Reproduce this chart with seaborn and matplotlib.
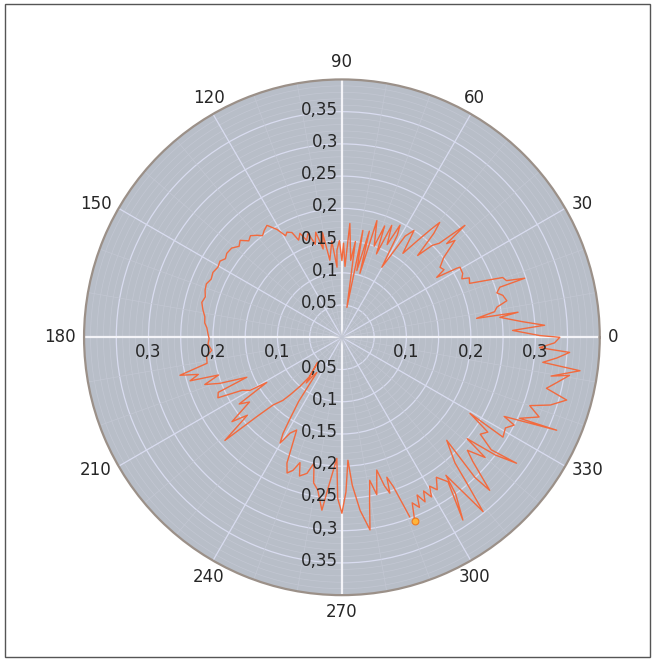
import numpy as np
import pandas as pd
import matplotlib
matplotlib.use("Agg")
import matplotlib.pyplot as plt
import matplotlib.transforms as mtransforms
import seaborn as sns

# traced counterclockwise, starting (and ending) at the marked point near 291 deg
angle_deg = [
    291.6, 293.0, 294.5, 295.5, 296.8, 298.0, 299.3, 300.5, 302.0, 304.0,
    306.3, 303.5, 306.0, 307.0, 309.0, 310.5, 312.0, 315.5, 313.5, 314.0,
    316.5, 318.0, 320.0, 321.0, 322.5, 324.2, 323.0, 325.0, 327.0, 329.3,
    328.2, 331.0, 333.0, 334.0, 336.6, 335.5, 338.0, 340.0, 342.0, 344.4,
    346.0, 348.0, 350.5, 349.5, 352.0, 352.9, 354.5, 356.2, 357.0, 358.5,
    360.0, 360.5, 362.3, 363.4, 365.0, 367.2, 368.1, 368.0, 369.5, 371.0,
    372.5, 374.6, 376.0, 377.6, 377.9, 379.0, 380.4, 382.9, 385.0, 386.0,
    387.9, 390.7, 391.0, 392.3, 393.5, 395.5, 398.0, 400.6, 401.8, 402.3,
    404.0, 405.5, 407.2, 408.5, 409.6, 410.6, 412.0, 414.0, 416.0, 418.0,
    420.3, 421.5, 422.6, 424.0, 426.0, 427.5, 429.0, 430.5, 433.3, 434.3,
    435.5, 437.4, 438.9, 440.5, 442.0, 443.5, 446.0, 447.5, 449.0, 450.0,
    451.5, 453.3, 454.0, 456.0, 458.9, 460.5, 462.0, 464.0, 466.0, 468.0,
    470.0, 472.0, 474.0, 475.5, 477.6, 479.0, 481.0, 483.8, 486.0, 488.0,
    489.8, 492.0, 494.0, 496.4, 498.5, 501.0, 503.9, 506.0, 508.0, 510.5,
    513.3, 516.0, 518.5, 521.0, 523.5, 526.0, 529.0, 531.5, 534.0, 536.0,
    538.3, 540.5, 543.0, 545.7, 548.0, 550.9, 553.2, 554.5, 556.0, 557.0,
    559.0, 560.7, 562.8, 564.0, 566.0, 568.0, 570.0, 571.0, 573.0, 575.0,
    577.5, 579.5, 581.4, 583.0, 584.5, 586.9, 588.0, 589.5, 590.5, 586.0,
    592.0, 593.0, 594.5, 596.0, 597.5, 598.5, 599.7, 601.6, 604.0, 606.4,
    608.0, 609.8, 611.5, 613.0, 615.6, 617.5, 619.0, 621.0, 623.4, 625.0,
    627.6, 628.5, 630.0, 631.5, 632.8, 634.0, 636.0, 638.3, 639.5, 641.0,
    642.5, 644.7, 646.0, 647.1, 647.8, 649.0, 650.7,
]
radius = [
    0.307, 0.279, 0.290, 0.271, 0.286, 0.270, 0.284, 0.268, 0.279, 0.262,
    0.278, 0.340, 0.300, 0.268, 0.348, 0.300, 0.262, 0.228, 0.300, 0.330,
    0.280, 0.262, 0.290, 0.250, 0.300, 0.334, 0.290, 0.262, 0.270, 0.231,
    0.294, 0.290, 0.300, 0.280, 0.363, 0.303, 0.330, 0.310, 0.340, 0.362,
    0.327, 0.340, 0.358, 0.330, 0.373, 0.314, 0.335, 0.354, 0.307, 0.330,
    0.338, 0.307, 0.265, 0.315, 0.280, 0.247, 0.276, 0.211, 0.240, 0.245,
    0.262, 0.258, 0.250, 0.257, 0.298, 0.270, 0.266, 0.215, 0.218, 0.207,
    0.212, 0.213, 0.208, 0.174, 0.190, 0.187, 0.200, 0.231, 0.218, 0.258,
    0.210, 0.200, 0.173, 0.215, 0.234, 0.215, 0.190, 0.161, 0.200, 0.185,
    0.125, 0.180, 0.196, 0.160, 0.190, 0.140, 0.185, 0.150, 0.189, 0.103,
    0.170, 0.106, 0.169, 0.047, 0.150, 0.120, 0.177, 0.110, 0.146, 0.119,
    0.150, 0.135, 0.109, 0.150, 0.121, 0.165, 0.140, 0.168, 0.150, 0.170,
    0.160, 0.174, 0.165, 0.180, 0.184, 0.180, 0.195, 0.209, 0.205, 0.200,
    0.206, 0.212, 0.208, 0.218, 0.213, 0.220, 0.221, 0.218, 0.223, 0.221,
    0.224, 0.222, 0.226, 0.2245, 0.221, 0.224, 0.2195, 0.215, 0.214, 0.210,
    0.208, 0.206, 0.208, 0.203, 0.212, 0.213, 0.258, 0.230, 0.245, 0.200,
    0.225, 0.202, 0.160, 0.210, 0.214, 0.175, 0.165, 0.136, 0.190, 0.175,
    0.215, 0.190, 0.242, 0.180, 0.150, 0.134, 0.120, 0.100, 0.080, 0.054,
    0.090, 0.075, 0.067, 0.120, 0.150, 0.175, 0.190, 0.169, 0.160, 0.213,
    0.227, 0.220, 0.205, 0.225, 0.218, 0.200, 0.230, 0.240, 0.270, 0.230,
    0.188, 0.250, 0.273, 0.240, 0.191, 0.230, 0.270, 0.302, 0.260, 0.226,
    0.250, 0.213, 0.240, 0.253, 0.228, 0.245, 0.298,
]

theta_ticks = list(range(0, 360, 30))
r_grid = [0.05, 0.1, 0.15, 0.2, 0.25, 0.3, 0.35]
r_labels_vertical = [0.05, 0.1, 0.15, 0.2, 0.25, 0.3, 0.35]
r_labels_horizontal = [0.1, 0.2, 0.3]


def comma(v):
    return f"{v:g}".replace(".", ",")


sns.set_theme(style="dark")
plt.rcParams["font.family"] = ["DejaVu Sans"]

fig = plt.figure(figsize=(6.55, 6.62), dpi=100)
ax = fig.add_axes([0.128, 0.101, 0.788, 0.779], projection="polar")
ax.set_facecolor("#b8bec8")

df = pd.DataFrame({"theta": np.deg2rad(angle_deg), "r": radius})
sns.lineplot(data=df, x="theta", y="r", sort=False, estimator=None,
             color="#f26a3e", lw=1.0, ax=ax, zorder=3)
sns.scatterplot(x=df["theta"].iloc[:1], y=df["r"].iloc[:1], color="#ffb43a",
                edgecolor="#f07a20", s=24, linewidth=0.8, ax=ax, zorder=5)
ax.set_xlabel("")
ax.set_ylabel("")

ax.set_ylim(0, 0.4)
ax.set_xticks(np.deg2rad(theta_ticks))
ax.set_xticklabels([])
minor_theta = [a for a in range(0, 360, 10) if a % 30 != 0]
ax.set_xticks(np.deg2rad(minor_theta), minor=True)
ax.set_yticks(r_grid)
ax.set_yticklabels([])
ax.set_yticks(np.arange(0.01, 0.4, 0.01), minor=True)
ax.tick_params(axis="both", which="both", length=0)

ax.grid(which="major", color="#d9dcf0", lw=0.9)
ax.grid(which="minor", color="#c3c7d3", lw=0.5)
for i, gl in enumerate(ax.xaxis.get_gridlines()):
    if i % 3 == 0:
        gl.set_color("#f4f4f8")
        gl.set_linewidth(1.6)
# rings under the spokes so the white axes stay solid
ax.yaxis.set_zorder(0.4)

ax.spines["polar"].set_color("#9b9088")
ax.spines["polar"].set_linewidth(1.6)

# angle labels, anchored just outside the rim
pad = 8
for t in theta_ticks:
    c, s = np.cos(np.deg2rad(t)), np.sin(np.deg2rad(t))
    ha = "left" if c > 0.6 else ("right" if c < -0.6 else "center")
    va = "bottom" if s > 0.6 else ("top" if s < -0.6 else "center")
    tr = mtransforms.offset_copy(ax.transData, fig=fig, x=pad * c, y=pad * s, units="dots")
    ax.text(np.deg2rad(t), 0.4, str(t), transform=tr, ha=ha, va=va,
            fontsize=12, color="#262626", clip_on=False)

# radial labels on all four half axes
vert = mtransforms.offset_copy(ax.transData, fig=fig, x=-4, y=2, units="dots")
horiz = mtransforms.offset_copy(ax.transData, fig=fig, x=0, y=-6, units="dots")
for v in r_labels_vertical:
    ax.text(np.pi / 2, v, comma(v), transform=vert, ha="right", va="center",
            fontsize=12, color="#262626", zorder=6)
    ax.text(3 * np.pi / 2, v, comma(v), transform=vert, ha="right", va="center",
            fontsize=12, color="#262626", zorder=6)
for v in r_labels_horizontal:
    ax.text(0, v, comma(v), transform=horiz, ha="center", va="top",
            fontsize=12, color="#262626", zorder=6)
    ax.text(np.pi, v, comma(v), transform=horiz, ha="center", va="top",
            fontsize=12, color="#262626", zorder=6)

fig.patches.append(plt.Rectangle((0.007, 0.007), 0.986, 0.987, transform=fig.transFigure,
                                 fill=False, edgecolor="#555555", lw=1))

fig.savefig("out.png", dpi=100)
